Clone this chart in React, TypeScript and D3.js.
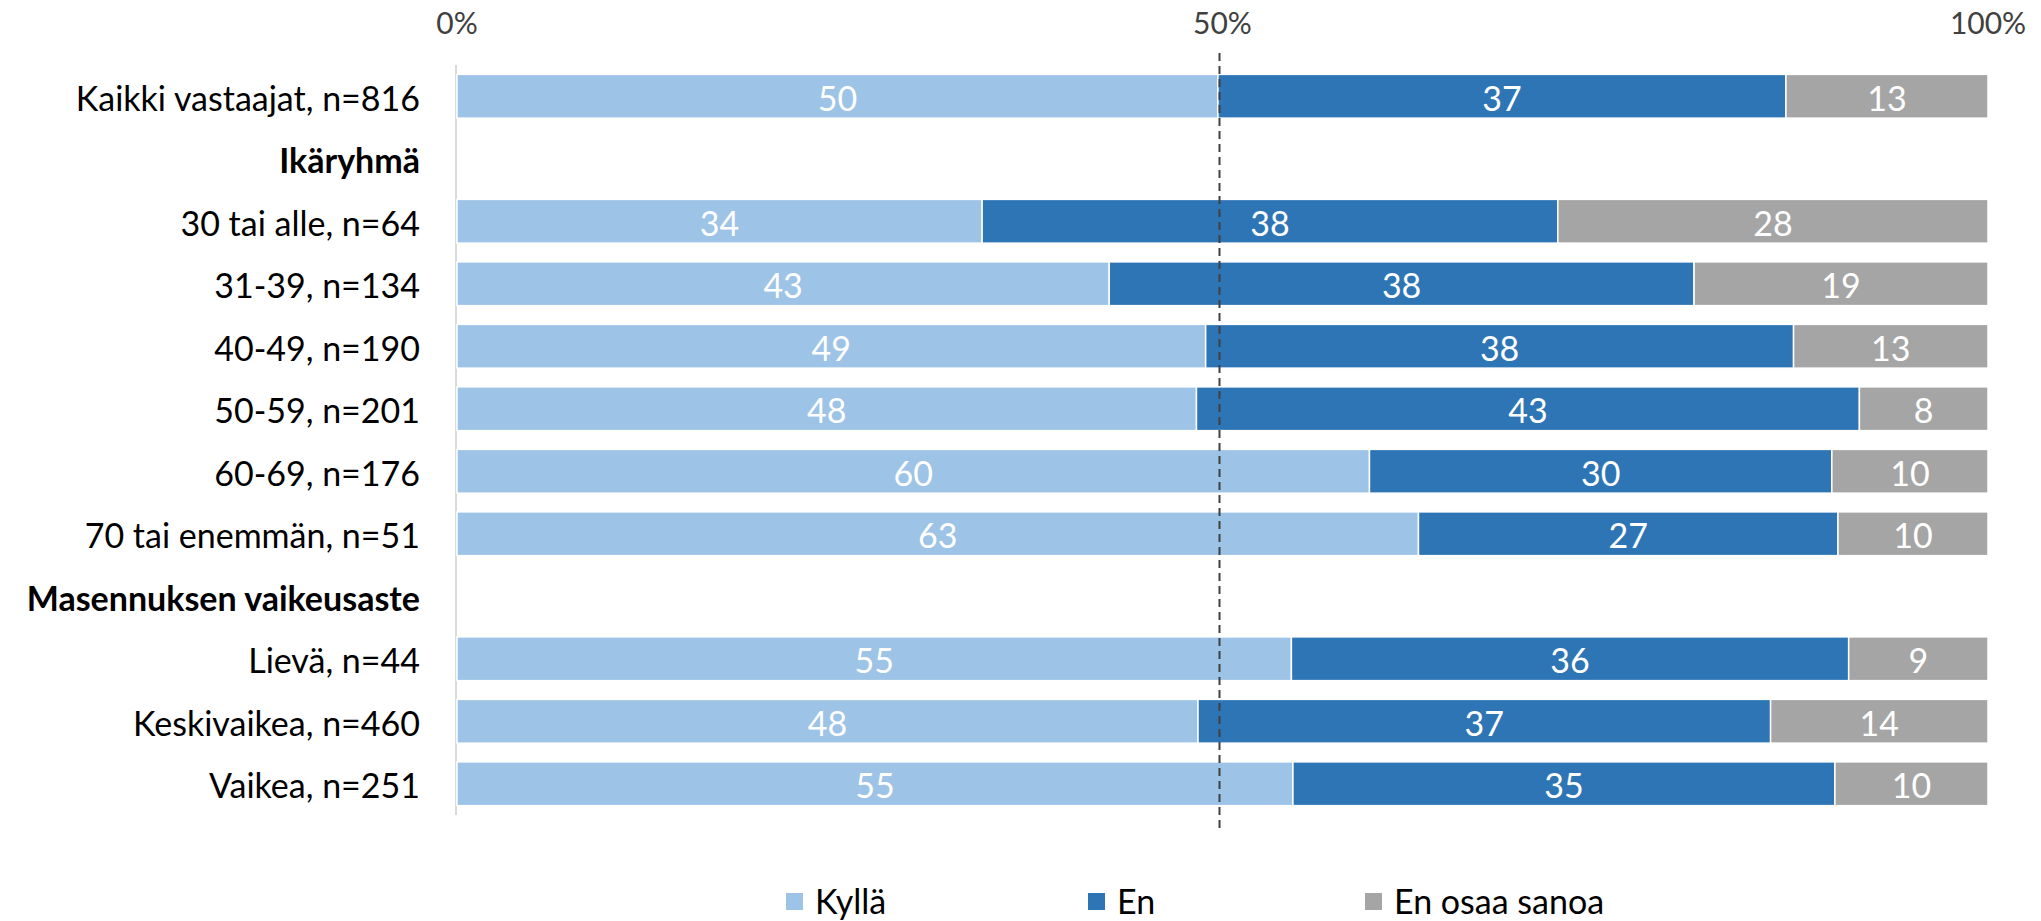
import React, { useEffect } from "react";
import * as d3 from "d3";

const categories = [
  "Kaikki vastaajat, n=816",
  "Ikäryhmä",
  "30 tai alle, n=64",
  "31-39, n=134",
  "40-49, n=190",
  "50-59, n=201",
  "60-69, n=176",
  "70 tai enemmän, n=51",
  "Masennuksen vaikeusaste",
  "Lievä, n=44",
  "Keskivaikea, n=460",
  "Vaikea, n=251",
];
const headerRows = ["Ikäryhmä", "Masennuksen vaikeusaste"];
const seriesNames = ["Kyllä", "En", "En osaa sanoa"];
const kylla = [49.7, null, 34.3, 42.6, 48.9, 48.3, 59.6, 62.8, null, 54.5, 48.4, 54.6];
const en = [37.1, null, 37.6, 38.2, 38.4, 43.3, 30.2, 27.4, null, 36.4, 37.4, 35.4];
const eos = [13.2, null, 28.1, 19.2, 12.7, 8.4, 10.2, 9.8, null, 9.1, 14.2, 10.0];
const tickValues = [0, 50, 100];
const tickLabels = ["0%", "50%", "100%"];
const colors = ["#9DC3E6", "#2E75B6", "#A5A5A5"];

const W = 2041;
const H = 921;
const FONT = "Lato, 'Open Sans', sans-serif";

export default function App() {
  useEffect(() => {
    document.body.style.margin = "0";
  }, []);

  const x = d3.scaleLinear().domain([0, 100]).range([457, 1988]);
  const y = d3
    .scaleBand<string>()
    .domain(categories)
    .range([65, 815])
    .paddingInner(0.3)
    .paddingOuter(0.15);

  const rows = categories.map((c, i) => ({
    cat: c,
    vals: [kylla[i], en[i], eos[i]],
  }));
  const stackData = rows
    .filter((r) => r.vals[0] != null)
    .map((r) => ({ cat: r.cat, s0: r.vals[0] as number, s1: r.vals[1] as number, s2: r.vals[2] as number }));
  const stack = d3.stack<any>().keys(["s0", "s1", "s2"]);
  const layers = stack(stackData);

  const legendX = [786, 1088, 1365];
  const legendY = 900;

  return (
    <svg width={W} height={H} style={{ display: "block", background: "#fff" }} fontFamily={FONT}>
      {/* axis line */}
      <line x1={x(0) - 1} x2={x(0) - 1} y1={65} y2={815} stroke="#D9D9D9" strokeWidth={2} />
      {/* tick labels */}
      {tickValues.map((t, i) => (
        <text
          key={t}
          x={x(t)}
          y={22}
          textAnchor="middle"
          dominantBaseline="central"
          fontSize={30}
          fill="#404040"
        >
          {tickLabels[i]}
        </text>
      ))}
      {/* bars */}
      {layers.map((layer, li) => (
        <g key={li}>
          {layer.map((d: any) => {
            const x0 = x(d[0]);
            const x1 = x(d[1]);
            const yy = y(d.data.cat)!;
            const bw = y.bandwidth();
            const v = d[1] - d[0];
            return (
              <g key={d.data.cat}>
                <rect
                  x={x0}
                  y={yy}
                  width={x1 - x0}
                  height={bw}
                  fill={colors[li]}
                  stroke="#fff"
                  strokeWidth={1.5}
                />
                <text
                  x={(x0 + x1) / 2}
                  y={yy + bw / 2 + 1}
                  textAnchor="middle"
                  dominantBaseline="central"
                  fill="#fff"
                  fontSize={34}
                >
                  {Math.round(v)}
                </text>
              </g>
            );
          })}
        </g>
      ))}
      {/* 50% dashed reference line */}
      <line
        x1={x(50) - 3}
        x2={x(50) - 3}
        y1={53}
        y2={832}
        stroke="#404040"
        strokeWidth={2}
        strokeDasharray="8,5"
      />
      {/* category labels */}
      {categories.map((c) => (
        <text
          key={c}
          x={420}
          y={y(c)! + y.bandwidth() / 2 + 1}
          textAnchor="end"
          dominantBaseline="central"
          fontSize={34}
          fontWeight={headerRows.includes(c) ? 700 : 400}
          fill="#000"
        >
          {c}
        </text>
      ))}
      {/* legend */}
      {seriesNames.map((s, i) => (
        <g key={s}>
          <rect x={legendX[i]} y={legendY - 7} width={17} height={17} fill={colors[i]} />
          <text
            x={legendX[i] + 29}
            y={legendY}
            dominantBaseline="central"
            fontSize={34}
            fill="#000"
          >
            {s}
          </text>
        </g>
      ))}
    </svg>
  );
}
